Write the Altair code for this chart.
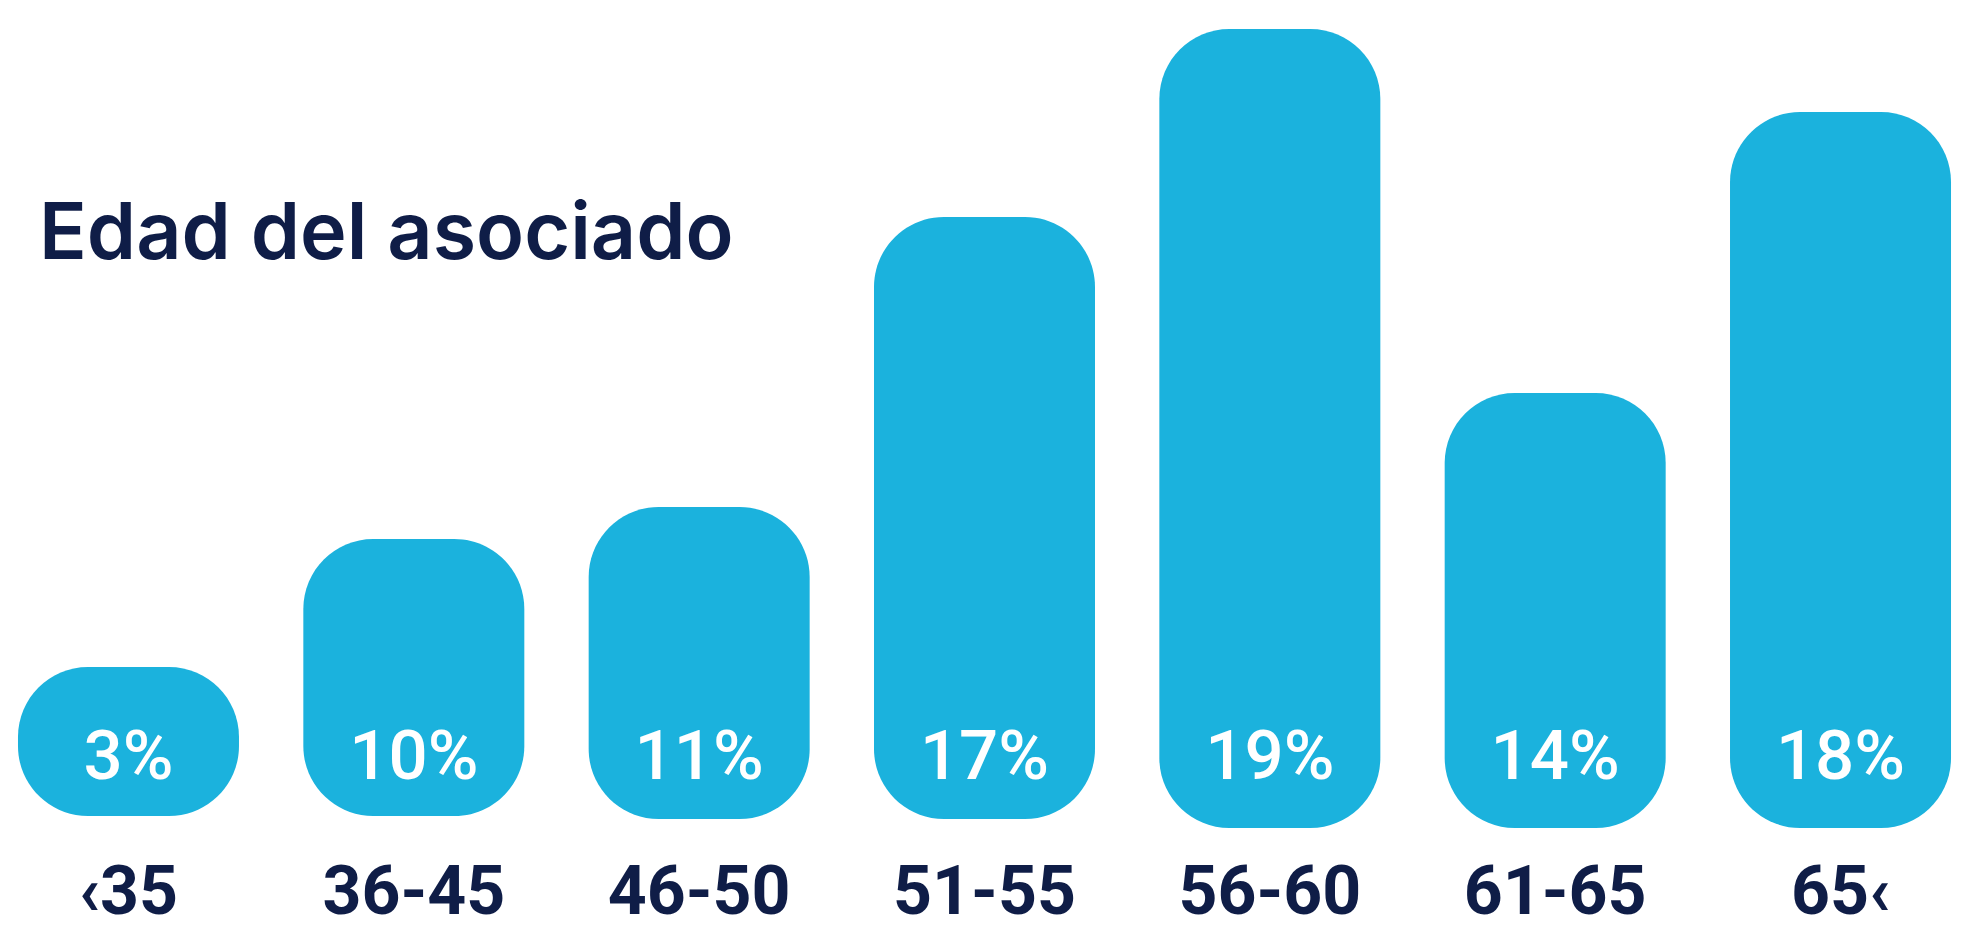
import altair as alt
import pandas as pd

# ---- values ----
categories = ["‹35", "36-45", "46-50", "51-55", "56-60", "61-65", "65‹"]
percent = [3, 10, 11, 17, 19, 14, 18]
# drawn bar extents (picture height units, measured up from the plot floor)
bar_top = [176, 304, 336, 626, 814, 450, 731]
bar_base = [27, 27, 24, 24, 15, 15, 15]
label_level = 64
title_text = "Edad del asociado"

BLUE = "#1bb2dd"
NAVY = "#0f1d47"

df = pd.DataFrame({
    "cat": categories,
    "pct": percent,
    "top": bar_top,
    "base": bar_base,
})
df["pct_label"] = [f"{p}%" for p in percent]

x_enc = alt.X(
    "cat:N",
    sort=categories,
    scale=alt.Scale(paddingInner=0.2255, paddingOuter=0.035),
    axis=alt.Axis(
        title=None, labelAngle=0, ticks=False, tickSize=0, domain=False, grid=False,
        labelFont="Roboto", labelFontSize=68, labelFontWeight="bold",
        labelColor=NAVY, labelPadding=70, labelBaseline="alphabetic",
        labelLimit=0, labelOverlap=False,
    ),
)
y_scale = alt.Scale(domain=[0, 835], nice=False, zero=True)

base = alt.Chart(df)

bars = base.mark_bar(cornerRadius=70, color=BLUE).encode(
    x=x_enc,
    y=alt.Y("top:Q", scale=y_scale, axis=None),
    y2="base:Q",
)

labels = base.mark_text(
    font="Roboto", fontSize=69, fontWeight=500, color="white",
    baseline="alphabetic", align="center",
).encode(
    x=alt.X("cat:N", sort=categories),
    y=alt.datum(label_level, scale=y_scale),
    text="pct_label:N",
)

title = alt.Chart(pd.DataFrame({"t": [title_text]})).mark_text(
    font="Inter", fontSize=79, fontWeight=600, color=NAVY,
    align="left", baseline="alphabetic",
).encode(
    x=alt.value(31),
    y=alt.value(251),
    text="t:N",
)

chart = alt.layer(bars, labels, title).properties(
    width=1953,
    height=835,
    autosize=alt.AutoSizeParams(type="none"),
    padding={"left": 0, "top": 0, "right": 0, "bottom": 86},
    background="white",
).configure_view(stroke=None)

chart.save("out.html", embed_options={"renderer": "svg", "actions": False})
